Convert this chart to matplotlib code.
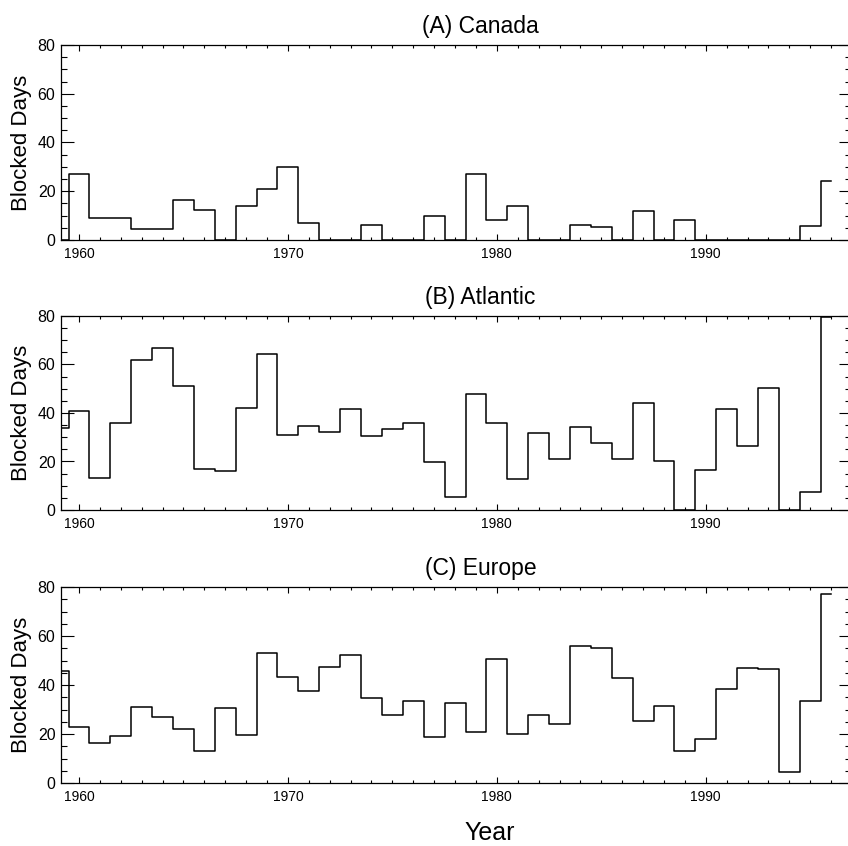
import matplotlib
matplotlib.use("Agg")
import matplotlib.pyplot as plt
import numpy as np
from matplotlib.ticker import MultipleLocator

plt.rcParams['font.family'] = ['Liberation Sans', 'DejaVu Sans']

# 年份 1959-1996，每年阻塞天数
years = list(range(1959, 1997))

canada = [0, 27, 9, 9, 4.5, 4.5, 16.5, 12.5, 0, 14, 21, 30, 7, 0, 0, 6, 0, 0,
          10, 0, 27, 8, 14, 0, 0, 6.3, 5.2, 0, 12, 0, 8.4, 0, 0, 0, 0, 0,
          5.7, 24]

atlantic = [34, 41, 13, 36, 62, 67, 51, 17, 16, 42, 64.5, 31, 34.5, 32.3,
            41.8, 30.7, 33.4, 35.8, 19.7, 5.5, 47.7, 35.9, 12.6, 31.8, 21,
            34.1, 27.8, 21, 44, 20, 0, 16.3, 41.5, 26.4, 50.4, 0, 7.4, 79.5]

europe = [45.7, 23, 16.2, 19.3, 31, 27.1, 22, 13.2, 30.5, 19.6, 53.2, 43.4,
          37.4, 47.5, 52.4, 34.8, 27.6, 33.6, 18.6, 32.8, 20.8, 50.7, 20,
          27.9, 23.9, 56, 55.1, 43, 25.2, 31.3, 13.1, 18.1, 38.4, 47.1, 46.5,
          4.4, 33.3, 77.3]

titles = ["(A) Canada", "(B) Atlantic", "(C) Europe"]
series = [canada, atlantic, europe]

W, H = 848, 846
fig = plt.figure(figsize=(W / 100, H / 100), dpi=100)

# 面板像素位置 (上边, 下边)
panels = [(45, 240), (316, 510), (587, 783)]
left_px, right_px = 61, 851

for (top, bot), title, vals in zip(panels, titles, series):
    ax = fig.add_axes([left_px / W, 1 - bot / H, (right_px - left_px) / W, (bot - top) / H])
    ax.plot(years, vals, drawstyle="steps-mid", color="black", lw=1.1)
    ax.set_xlim(1959.14, 1996.95)
    ax.set_ylim(0, 80)
    ax.xaxis.set_major_locator(MultipleLocator(10))
    ax.xaxis.set_minor_locator(MultipleLocator(1))
    ax.yaxis.set_major_locator(MultipleLocator(20))
    ax.yaxis.set_minor_locator(MultipleLocator(5))
    ax.tick_params(axis="both", which="both", direction="in", top=True, right=True, width=0.8)
    ax.tick_params(axis="y", which="major", length=9, labelsize=11.5, pad=4)
    ax.tick_params(axis="y", which="minor", length=4.5)
    ax.tick_params(axis="x", which="major", length=4, labelsize=10, pad=5)
    ax.tick_params(axis="x", which="minor", length=2)
    for s in ax.spines.values():
        s.set_linewidth(0.9)
    ax.set_ylabel("Blocked Days", fontsize=16, labelpad=4)
    ax.text(0.531, 1 + 12 / (bot - top), title, transform=ax.transAxes,
            ha="center", va="baseline", fontsize=16.5)

fig.text(490 / W, 1 - 840 / H, "Year", ha="center", va="baseline", fontsize=18)

fig.savefig("out.png", dpi=100)
